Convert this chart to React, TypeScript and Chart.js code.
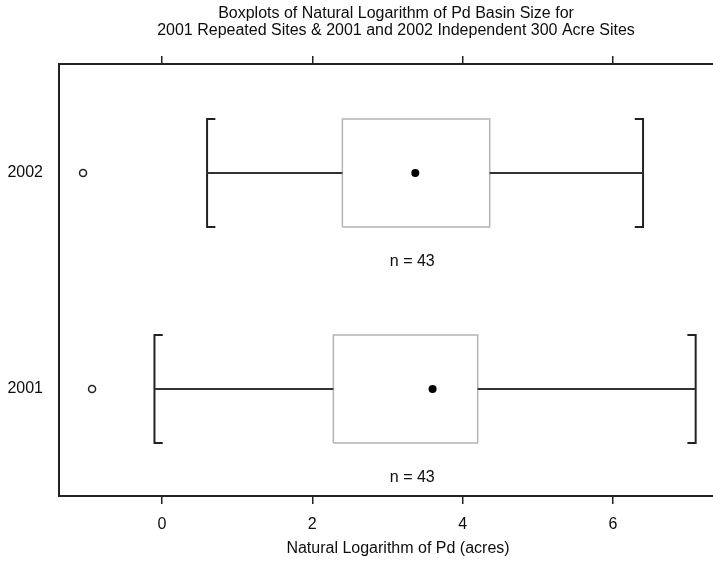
import React, { useEffect, useRef } from 'react';
import { Chart, registerables } from 'chart.js';

Chart.register(...registerables);

// ---- data ----
const categories = ['2001', '2002'];
const whiskerLow = [-0.1, 0.6];
const q1 = [2.28, 2.4];
const q3 = [4.2, 4.36];
const whiskerHigh = [7.1, 6.4];
const means = [3.6, 3.37];
const outliers = [-0.93, -1.05];
const counts = [43, 43];
const xTicks = [0, 2, 4, 6];
const titleLines = [
  'Boxplots of Natural Logarithm of Pd Basin Size for',
  '2001 Repeated Sites & 2001 and 2002 Independent 300 Acre Sites',
];
const xTitle = 'Natural Logarithm of Pd (acres)';

// ---- styling / geometry constants ----
const X_MIN = -1.37;
const X_MAX = 7.65;
const Y_MIN = 0.505;
const Y_MAX = 2.505;
const BOX_HALF = 0.25;
const SERIF = 0.11;
const N_LABEL_X = 3.33;
const N_LABEL_DY = 0.41;
const FONT = '"Liberation Sans", Arial, Helvetica, sans-serif';
const TEXT = '#0d0d0d';
const AXIS = '#222';

function lineDs(data: { x: number; y: number }[], color: string, width: number) {
  return {
    type: 'scatter' as const,
    data,
    showLine: true,
    borderColor: color,
    borderWidth: width,
    pointRadius: 0,
    pointHoverRadius: 0,
    fill: false,
    tension: 0,
    borderJoinStyle: 'miter' as const,
    borderCapStyle: 'butt' as const,
  };
}

function buildDatasets() {
  const ds: any[] = [];
  categories.forEach((_, i) => {
    const y = i + 1;
    const h = BOX_HALF;
    ds.push(lineDs([{ x: whiskerLow[i], y }, { x: q1[i], y }], '#333', 2));
    ds.push(lineDs([{ x: q3[i], y }, { x: whiskerHigh[i], y }], '#333', 2));
    ds.push(
      lineDs(
        [
          { x: whiskerLow[i] + SERIF, y: y + h },
          { x: whiskerLow[i], y: y + h },
          { x: whiskerLow[i], y: y - h },
          { x: whiskerLow[i] + SERIF, y: y - h },
        ],
        AXIS,
        2
      )
    );
    ds.push(
      lineDs(
        [
          { x: whiskerHigh[i] - SERIF, y: y + h },
          { x: whiskerHigh[i], y: y + h },
          { x: whiskerHigh[i], y: y - h },
          { x: whiskerHigh[i] - SERIF, y: y - h },
        ],
        AXIS,
        2
      )
    );
    ds.push(
      lineDs(
        [
          { x: q1[i], y: y - h },
          { x: q3[i], y: y - h },
          { x: q3[i], y: y + h },
          { x: q1[i], y: y + h },
          { x: q1[i], y: y - h },
        ],
        '#b4b4b4',
        1.5
      )
    );
  });
  ds.push({
    type: 'scatter',
    data: categories.map((_, i) => ({ x: means[i], y: i + 1 })),
    pointRadius: 4,
    pointBackgroundColor: '#000',
    pointBorderColor: '#000',
    pointBorderWidth: 0,
    showLine: false,
  });
  ds.push({
    type: 'scatter',
    data: categories.map((_, i) => ({ x: outliers[i], y: i + 1 })),
    pointRadius: 3.5,
    pointBackgroundColor: '#fff',
    pointBorderColor: '#222',
    pointBorderWidth: 1.5,
    showLine: false,
  });
  return ds;
}

const nLabelPlugin = {
  id: 'nLabels',
  afterDatasetsDraw(chart: any) {
    const { ctx, scales } = chart;
    const xs = scales.x;
    const ys = scales.y;
    ctx.save();
    ctx.font = `16px ${FONT}`;
    ctx.fillStyle = TEXT;
    ctx.textAlign = 'center';
    ctx.textBaseline = 'middle';
    categories.forEach((_, i) => {
      ctx.fillText(
        `n = ${counts[i]}`,
        xs.getPixelForValue(N_LABEL_X),
        ys.getPixelForValue(i + 1 - N_LABEL_DY)
      );
    });
    ctx.restore();
  },
};

const setXTicks = (scale: any) => {
  scale.ticks = xTicks.map((v) => ({ value: v }));
};

export default function App() {
  const ref = useRef<HTMLCanvasElement>(null);
  useEffect(() => {
    if (!ref.current) return;
    const chart = new Chart(ref.current, {
      type: 'scatter',
      data: { datasets: buildDatasets() },
      plugins: [nLabelPlugin],
      options: {
        animation: false,
        responsive: false,
        maintainAspectRatio: false,
        events: [],
        layout: { padding: 0 },
        plugins: {
          legend: { display: false },
          tooltip: { enabled: false },
          title: {
            display: true,
            text: titleLines,
            color: TEXT,
            font: { family: FONT, size: 16, weight: 'normal', lineHeight: 1.05 },
            padding: { top: 5, bottom: 17.4 },
          },
        },
        scales: {
          x: {
            type: 'linear',
            position: 'bottom',
            min: X_MIN,
            max: X_MAX,
            afterBuildTicks: setXTicks,
            afterFit: (s: any) => {
              s.height = 71;
            },
            grid: {
              display: true,
              drawOnChartArea: false,
              drawTicks: true,
              tickLength: 8,
              color: AXIS,
              lineWidth: 1.5,
            },
            border: { display: true, color: AXIS, width: 2 },
            ticks: {
              color: TEXT,
              font: { family: FONT, size: 16 },
              padding: 11,
              maxRotation: 0,
              callback: (v: any) => String(v),
            },
            title: {
              display: true,
              text: xTitle,
              color: TEXT,
              font: { family: FONT, size: 16 },
              padding: { top: 0, bottom: 9 },
            },
          },
          x2: {
            type: 'linear',
            position: 'top',
            min: X_MIN,
            max: X_MAX,
            afterBuildTicks: setXTicks,
            afterFit: (s: any) => {
              s.height = 8;
            },
            grid: {
              display: true,
              drawOnChartArea: false,
              drawTicks: true,
              tickLength: 8,
              color: AXIS,
              lineWidth: 1.5,
            },
            border: { display: true, color: AXIS, width: 2 },
            ticks: { display: false },
          },
          y: {
            type: 'linear',
            position: 'left',
            min: Y_MIN,
            max: Y_MAX,
            afterBuildTicks: (scale: any) => {
              scale.ticks = categories.map((_, i) => ({ value: i + 1 }));
            },
            afterFit: (s: any) => {
              s.width = 59;
            },
            grid: { display: false, drawTicks: false, tickLength: 0 },
            border: { display: true, color: AXIS, width: 2 },
            ticks: {
              color: TEXT,
              font: { family: FONT, size: 16 },
              padding: 16,
              callback: (v: any) => categories[Math.round(v) - 1] ?? '',
            },
          },
          yRight: {
            type: 'linear',
            position: 'right',
            min: Y_MIN,
            max: Y_MAX,
            afterFit: (s: any) => {
              s.width = 55;
            },
            grid: { display: false, drawTicks: false },
            border: { display: false },
            ticks: { display: false },
          },
        },
      } as any,
    });
    return () => chart.destroy();
  }, []);

  return (
    <div
      style={{
        position: 'fixed',
        left: 0,
        top: 0,
        width: 713,
        height: 567,
        overflow: 'hidden',
        background: '#fff',
      }}
    >
      <canvas ref={ref} width={792} height={567} style={{ display: 'block', width: 792, height: 567 }} />
    </div>
  );
}
